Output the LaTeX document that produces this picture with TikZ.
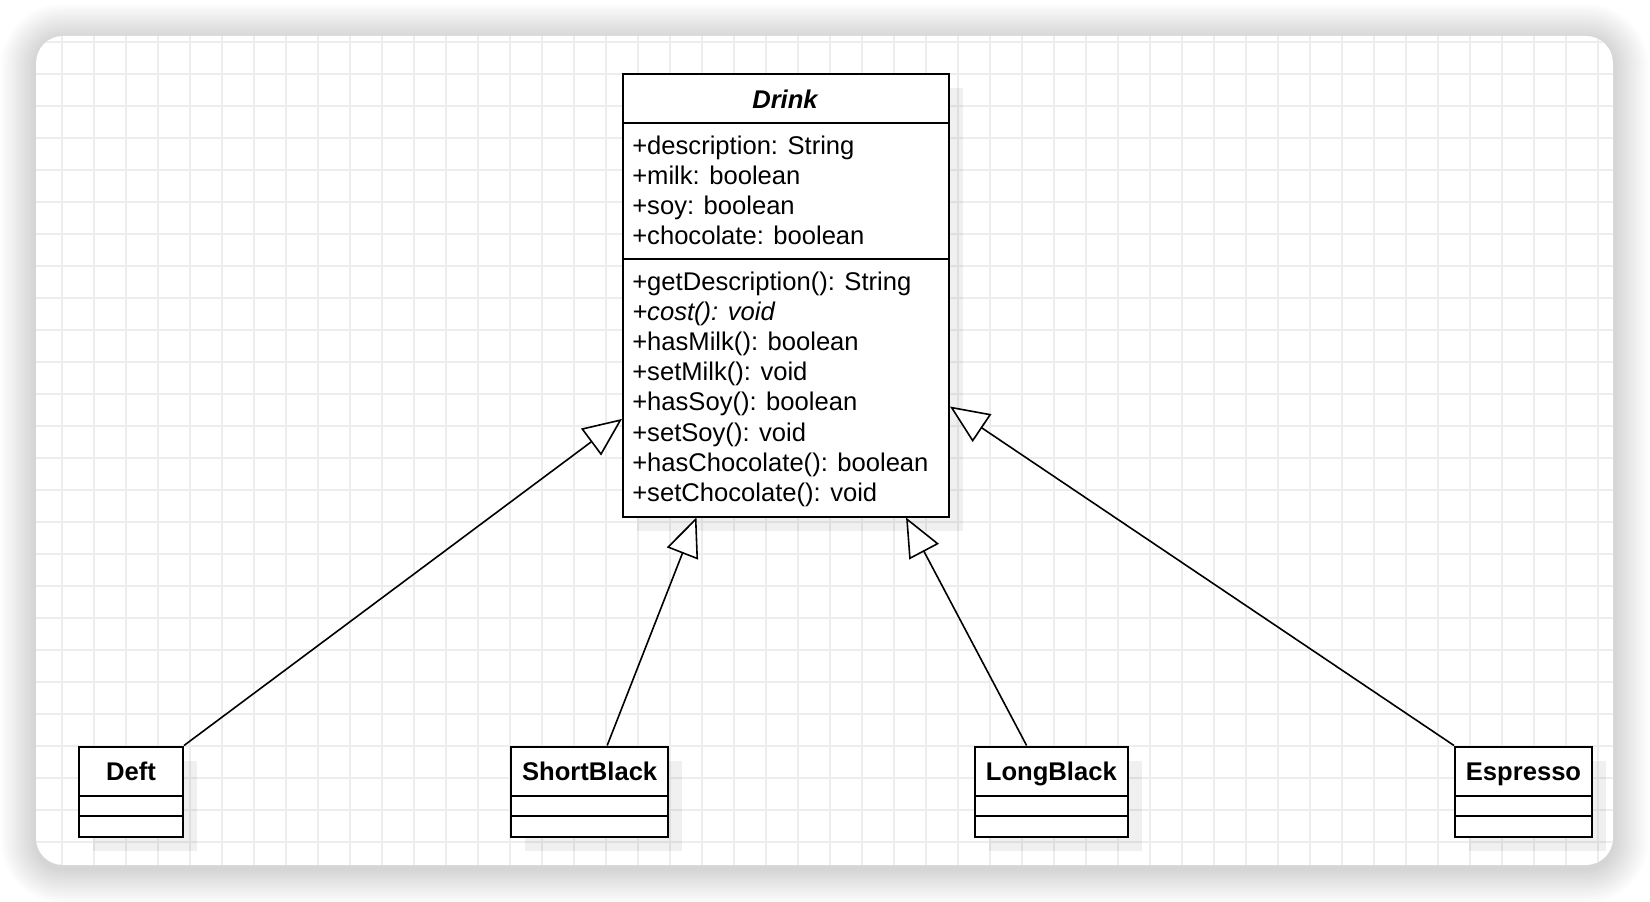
\documentclass[tikz,border=0pt]{standalone}
\usepackage{fontspec}
\setmainfont{Liberation Sans}
\usetikzlibrary{arrows.meta,calc,shadows}
\definecolor{gridc}{RGB}{237,237,237}
\begin{document}
\begin{tikzpicture}[x=0.75pt,y=-0.75pt,
  txt/.style={inner sep=0pt, anchor=base west, font=\fontsize{19.2pt}{22pt}\selectfont},
  cname/.style={inner sep=0pt, anchor=base, font=\fontsize{19.2pt}{22pt}\selectfont\bfseries},
  umlbox/.style={draw, line width=1.5pt, fill=white, inner sep=0pt, anchor=north west,
    drop shadow={shadow xshift=10.5pt, shadow yshift=-10.5pt, opacity=0.06, fill=black}},
  sepline/.style={line width=1.5pt},
  gridline/.style={draw=gridc, line width=1.3pt},
  inherit/.style={line width=1.2pt, -{Triangle[length=29pt, width=25pt, fill=white, line width=1.2pt]}}
]
\useasboundingbox (0,0) rectangle (1650,902);
% card shadow
\foreach \i [evaluate=\i as \r using {(27+2.5*\i)*0.75}] in {1,...,14}
  \fill[black, opacity=0.011, rounded corners=\r pt] (36-2.5*\i,36-2.5*\i+3) rectangle (1613+2.5*\i,865+2.5*\i+3);
% card
\fill[white, rounded corners=20.25pt] (36,36) rectangle (1613,865);
\begin{scope}
  \clip[rounded corners=20.25pt] (36,36) rectangle (1613,865);
  \foreach \x in {62,94,...,1613} \draw[gridline] (\x,36) -- (\x,865);
  \foreach \y in {41.7,73.7,...,865} \draw[gridline] (36,\y) -- (1613,\y);
\end{scope}

% Drink
\node[umlbox, minimum width={326*0.75pt}, minimum height={442*0.75pt}] (drink) at (622,73.5) {};
\draw[sepline] ($(drink.north west)+(0,49.3)$) -- ++(327.5,0);
\draw[sepline] ($(drink.north west)+(0,186)$) -- ++(327.5,0);
\node[cname, font=\fontsize{19.2pt}{22pt}\selectfont\bfseries\itshape] (dname) at (785,108.5) {Drink};
\node[txt] (a1) at (632,154.5) {+description: String};
\node[txt] (a2) at (632,184.5) {+milk: boolean};
\node[txt] (a3) at (632,214.5) {+soy: boolean};
\node[txt] (a4) at (632,244.5) {+chocolate: boolean};
\node[txt] (m1) at (632,291) {+getDescription(): String};
\node[txt] (m2) at (632,321) {\itshape +cost(): void};
\node[txt] (m3) at (632,351) {+hasMilk(): boolean};
\node[txt] (m4) at (632,381) {+setMilk(): void};
\node[txt] (m5) at (632,411) {+hasSoy(): boolean};
\node[txt] (m6) at (632,441) {+setSoy(): void};
\node[txt] (m7) at (632,471) {+hasChocolate(): boolean};
\node[txt] (m8) at (632,501) {+setChocolate(): void};

% subclasses
\foreach \nm/\lbl/\xx/\ww in {deft/Deft/78/104, sb/ShortBlack/510/157.3, lb/LongBlack/974/152.7, esp/Espresso/1454/137}{
  \node[umlbox, minimum width={\ww*0.75pt}, minimum height={90*0.75pt}] (\nm) at (\xx,745.5) {};
  \draw[sepline] ($(\nm.north west)+(0,50)$) -- ++(\ww+1.5,0);
  \draw[sepline] ($(\nm.north west)+(0,70)$) -- ++(\ww+1.5,0);
  \node[cname] (\nm-name) at ($(\nm.north)+(0,34.5)$) {\lbl};
}

% inheritance
\draw[inherit] (deft.north east) -- ($(drink.north west)!0.778!(drink.south west)$);
\draw[inherit] ($(sb.north west)!0.610!(sb.north east)$) -- ($(drink.south west)!0.227!(drink.south east)$);
\draw[inherit] ($(lb.north west)!0.340!(lb.north east)$) -- ($(drink.south west)!0.866!(drink.south east)$);
\draw[inherit] (esp.north west) -- ($(drink.north east)!0.75!(drink.south east)$);
\end{tikzpicture}
\end{document}
